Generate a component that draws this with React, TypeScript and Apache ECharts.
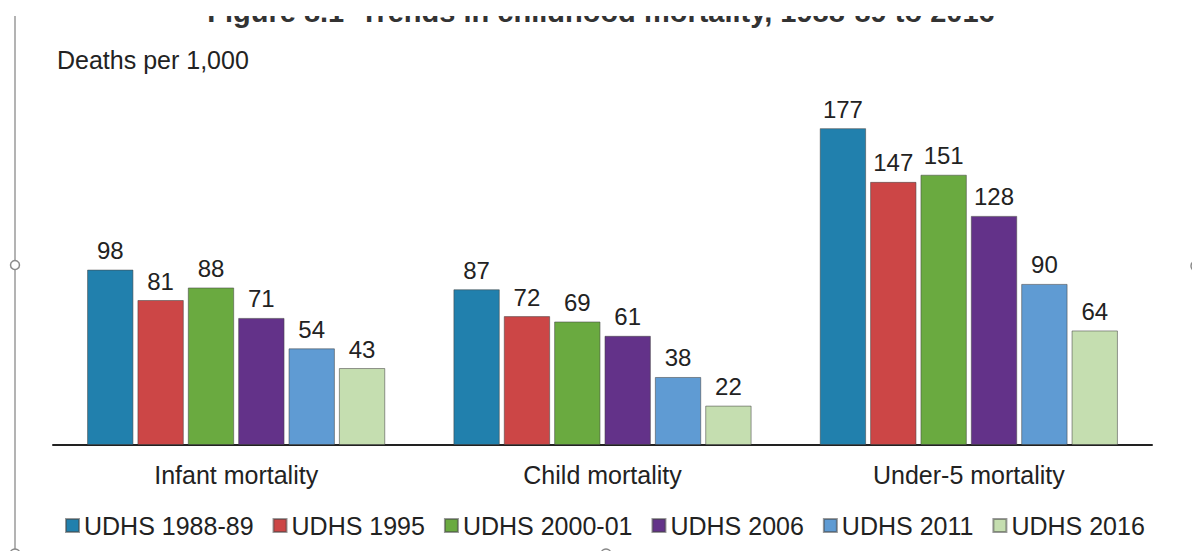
import React, { useEffect, useRef } from "react";
import * as echarts from "echarts";

const categories = ["Infant mortality", "Child mortality", "Under-5 mortality"];
const seriesNames = ["UDHS 1988-89", "UDHS 1995", "UDHS 2000-01", "UDHS 2006", "UDHS 2011", "UDHS 2016"];
const udhs1988 = [98, 87, 177];
const udhs1995 = [81, 72, 147];
const udhs2000 = [88, 69, 151];
const udhs2006 = [71, 61, 128];
const udhs2011 = [54, 38, 90];
const udhs2016 = [43, 22, 64];
const seriesValues = [udhs1988, udhs1995, udhs2000, udhs2006, udhs2011, udhs2016];
const colors = ["#2180ad", "#cc4646", "#6aaa40", "#633289", "#5f9bd3", "#c5deb0"];
const titleText = "Figure 8.1  Trends in childhood mortality, 1988-89 to 2016";
const yAxisTitle = "Deaths per 1,000";

const FONT = "'Liberation Sans', Arial, sans-serif";

export default function App() {
  const ref = useRef<HTMLDivElement>(null);
  useEffect(() => {
    if (!ref.current) return;
    const chart = echarts.init(ref.current, undefined, { renderer: "svg" });
    chart.setOption({
      animation: false,
      backgroundColor: "#ffffff",
      color: colors,
      textStyle: { fontFamily: FONT },
      grid: { left: 53, right: 40, top: 87, bottom: 106, containLabel: false },
      legend: {
        data: seriesNames,
        left: 60,
        bottom: 8,
        itemWidth: 13,
        itemHeight: 13,
        itemGap: 19,
        icon: "rect",
        textStyle: { fontSize: 25, color: "#222", fontFamily: FONT },
      },
      xAxis: {
        type: "category",
        data: categories,
        axisLine: { show: true, lineStyle: { color: "#222", width: 2 } },
        axisTick: { show: false },
        axisLabel: { fontSize: 25, color: "#222", margin: 17, fontFamily: FONT },
      },
      yAxis: {
        type: "value",
        min: 0,
        max: 200,
        show: false,
        splitLine: { show: false },
      },
      series: seriesNames.map((name, i) => ({
        name,
        type: "bar",
        data: seriesValues[i],
        barGap: "8.6%",
        barCategoryGap: "18.6%",
        itemStyle: { color: colors[i], borderColor: "rgba(70,70,70,0.55)", borderWidth: 1 },
        label: {
          show: true,
          position: "top",
          distance: 7,
          fontSize: 24,
          color: "#222",
          fontFamily: FONT,
        },
      })),
      graphic: [
        {
          type: "text",
          x: 601,
          y: 26,
          z: 1,
          style: {
            text: titleText,
            fontSize: 29,
            fontWeight: "bold",
            fontFamily: FONT,
            fill: "#333",
            textAlign: "center",
            textVerticalAlign: "bottom",
          },
        },
        {
          type: "line",
          z: 2,
          shape: { x1: 15, y1: 0, x2: 15, y2: 551 },
          style: { stroke: "#9a9a9a", lineWidth: 1.5 },
        },
        {
          type: "rect",
          z: 5,
          shape: { x: 0, y: 0, width: 1192, height: 16 },
          style: { fill: "#ffffff" },
        },
        {
          type: "text",
          x: 57,
          y: 60,
          z: 5,
          style: {
            text: yAxisTitle,
            fontSize: 25,
            fontFamily: FONT,
            fill: "#222",
            textAlign: "left",
            textVerticalAlign: "middle",
          },
        },
        {
          type: "circle",
          z: 6,
          shape: { cx: 15, cy: 265, r: 4.5 },
          style: { fill: "#ffffff", stroke: "#8a8a8a", lineWidth: 1.5 },
        },
        {
          type: "circle",
          z: 6,
          shape: { cx: 15, cy: 554, r: 5 },
          style: { fill: "#ffffff", stroke: "#8a8a8a", lineWidth: 1.5 },
        },
        {
          type: "circle",
          z: 6,
          shape: { cx: 606, cy: 554, r: 5 },
          style: { fill: "#ffffff", stroke: "#8a8a8a", lineWidth: 1.5 },
        },
        {
          type: "circle",
          z: 6,
          shape: { cx: 1196, cy: 266, r: 5 },
          style: { fill: "#ffffff", stroke: "#8a8a8a", lineWidth: 1.5 },
        },
      ],
    });
    return () => chart.dispose();
  }, []);
  return (
    <div
      ref={ref}
      style={{ position: "fixed", left: 0, top: 0, width: 1192, height: 551, background: "#fff" }}
    />
  );
}
